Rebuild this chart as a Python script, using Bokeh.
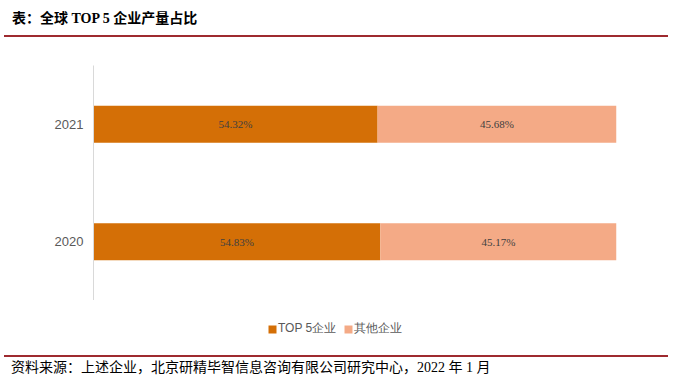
from bokeh.plotting import figure
from bokeh.models import ColumnDataSource, FactorRange, Range1d, Div, Legend, LegendItem
from bokeh.layouts import column
from bokeh.core.properties import value
from bokeh.embed import file_html
from bokeh.resources import INLINE

# ---- data ----
years = ["2020", "2021"]
top5 = [54.83, 54.32]
others = [45.17, 45.68]
top5_labels = ["54.83%", "54.32%"]
others_labels = ["45.17%", "45.68%"]
series_names = ["TOP 5企业", "其他企业"]
title_text = "表：全球 TOP 5 企业产量占比"
source_text = "资料来源：上述企业，北京研精毕智信息咨询有限公司研究中心，2022 年 1 月"

C_TOP = "#D46F06"
C_OTH = "#F4AA86"
RED = "#9E2A2F"

src = ColumnDataSource(dict(
    year=years, top5=top5, others=others,
    top5_mid=[v / 2 for v in top5],
    oth_mid=[a + b / 2 for a, b in zip(top5, others)],
    top5_lab=top5_labels, oth_lab=others_labels,
))

# ---- main chart ----
p = figure(width=676, height=255, y_range=FactorRange(*years), x_range=Range1d(0, 100),
           output_backend="svg", toolbar_location=None, x_axis_location=None,
           min_border_top=20, min_border_bottom=0, min_border_left=93, min_border_right=60)
p.outline_line_color = None
p.grid.visible = False

p.hbar_stack(["top5", "others"], y="year", height=0.315, color=[C_TOP, C_OTH],
             line_color=None, source=src)

p.text(x="top5_mid", y="year", text="top5_lab", source=src, text_align="center",
       text_baseline="middle", text_font=value("Liberation Serif"), text_font_size="11px",
       text_color="#404040")
p.text(x="oth_mid", y="year", text="oth_lab", source=src, text_align="center",
       text_baseline="middle", text_font=value("Liberation Serif"), text_font_size="11px",
       text_color="#404040")

ax = p.yaxis[0]
ax.axis_line_color = "#D9D9D9"
ax.major_tick_line_color = None
ax.minor_tick_line_color = None
ax.major_label_standoff = 4
ax.major_label_text_font = "Liberation Sans"
ax.major_label_text_font_size = "13px"
ax.major_label_text_color = "#595959"

# ---- legend strip (zero-height, out-of-view series: only the legend shows) ----
lg = figure(width=676, height=55, y_range=FactorRange(*years), x_range=Range1d(1000, 1100),
            output_backend="svg", toolbar_location=None, x_axis_location=None,
            y_axis_location=None, min_border_top=0, min_border_bottom=0,
            min_border_left=93, min_border_right=60)
lg.outline_line_color = None
lg.grid.visible = False
lr = lg.hbar_stack(["top5", "others"], y="year", height=0, color=[C_TOP, C_OTH],
                   line_color=None, source=src)
legend = Legend(items=[LegendItem(label=series_names[0], renderers=[lr[0]]),
                       LegendItem(label=series_names[1], renderers=[lr[1]])],
                orientation="horizontal", location=(174, 18),
                glyph_width=10, glyph_height=10, label_standoff=1, spacing=7,
                label_text_font="Liberation Sans", label_text_font_size="12px",
                label_text_color="#595959", border_line_color=None,
                background_fill_alpha=0, padding=0, margin=0)
lg.add_layout(legend, "center")

title_div = Div(width=676, height=45, margin=0, text=(
    '<div style="position:relative;width:676px;height:45px;">'
    '<div style="position:absolute;left:12px;top:10px;line-height:18px;white-space:nowrap;'
    'font-weight:bold;font-size:14px;font-family:\'Liberation Serif\',\'Noto Sans CJK SC\';color:#000;">'
    + title_text + '</div>'
    '<div style="position:absolute;left:4px;top:35px;width:664px;height:2px;background:' + RED + ';"></div>'
    '</div>'))

foot_div = Div(width=676, height=22, margin=0, text=(
    '<div style="position:relative;width:676px;height:22px;overflow:hidden;">'
    '<div style="position:absolute;left:4px;top:0px;width:664px;height:2px;background:' + RED + ';"></div>'
    '<div style="position:absolute;left:11px;top:4px;line-height:17px;white-space:nowrap;'
    'font-size:14px;font-family:\'Liberation Serif\',\'Noto Sans CJK SC\';color:#000;">'
    + source_text + '</div>'
    '</div>'))

layout = column(title_div, p, lg, foot_div, spacing=0, margin=0)
open("out.html", "w").write(file_html(layout, INLINE))
